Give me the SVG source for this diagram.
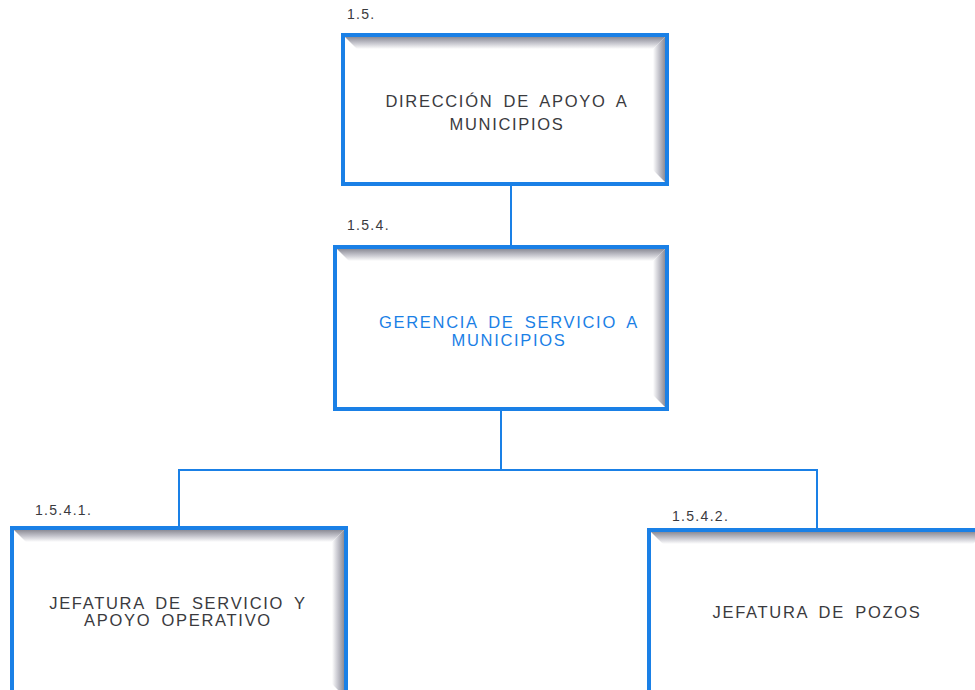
<svg xmlns="http://www.w3.org/2000/svg" width="975" height="690" viewBox="0 0 975 690">
<defs>
<linearGradient id="gTop" x1="0" y1="0" x2="0" y2="1"><stop offset="0" stop-color="#8c8c96"/><stop offset="0.5" stop-color="#c4c4cc"/><stop offset="1" stop-color="#ffffff"/></linearGradient>
<linearGradient id="gRight" x1="1" y1="0" x2="0" y2="0"><stop offset="0" stop-color="#8c8c96"/><stop offset="0.5" stop-color="#c4c4cc"/><stop offset="1" stop-color="#ffffff"/></linearGradient>
</defs>
<style>
.box{fill:#fff;stroke:#1a80e6;stroke-width:4}
.t{font-family:"Liberation Sans",Arial,sans-serif;font-size:16.5px;letter-spacing:1.7px;word-spacing:4px;fill:#3a3a3e;text-anchor:middle}
.blue{fill:#1a80e6}
.num{font-family:"Liberation Sans",Arial,sans-serif;font-size:14px;letter-spacing:1.3px;fill:#3a3a3e}
.c{stroke:#1a80e6;stroke-width:2;fill:none}
</style>
<rect width="975" height="690" fill="#fff"/>
<g id="connectors">
<line class="c" x1="511" y1="184" x2="511" y2="246"/>
<polyline class="c" points="501,410 501,470"/>
<polyline class="c" points="179,527 179,470 817,470 817,529"/>
</g>
<g id="n1">
<rect class="box" x="343" y="35" width="324" height="149"/>
<polygon fill="url(#gTop)" points="345,37 665,37 653,49 357,49"/>
<polygon fill="url(#gRight)" points="665,37 665,182 653,170 653,49"/>
<text class="num" x="347" y="19">1.5.</text>
<text class="t" x="507" y="107">DIRECCIÓN DE APOYO A</text>
<text class="t" x="507" y="130">MUNICIPIOS</text>
</g>
<g id="n2">
<rect class="box" x="335" y="247" width="332" height="162"/>
<polygon fill="url(#gTop)" points="337,249 665,249 653,261 349,261"/>
<polygon fill="url(#gRight)" points="665,249 665,407 653,395 653,261"/>
<text class="num" x="347" y="230">1.5.4.</text>
<text class="t blue" x="509" y="328">GERENCIA DE SERVICIO A</text>
<text class="t blue" x="509" y="346">MUNICIPIOS</text>
</g>
<g id="n3">
<rect class="box" x="12" y="528" width="334" height="170"/>
<polygon fill="url(#gTop)" points="14,530 344,530 332,542 26,542"/>
<polygon fill="url(#gRight)" points="344,530 344,696 332,684 332,542"/>
<text class="num" x="35" y="515">1.5.4.1.</text>
<text class="t" x="178" y="609">JEFATURA DE SERVICIO Y</text>
<text class="t" x="178" y="626">APOYO OPERATIVO</text>
</g>
<g id="n4">
<rect class="box" x="649" y="530" width="340" height="170"/>
<polygon fill="url(#gTop)" points="651,532 985,532 973,544 663,544"/>
<text class="num" x="672" y="521">1.5.4.2.</text>
<text class="t" x="817" y="618">JEFATURA DE POZOS</text>
</g>
</svg>
